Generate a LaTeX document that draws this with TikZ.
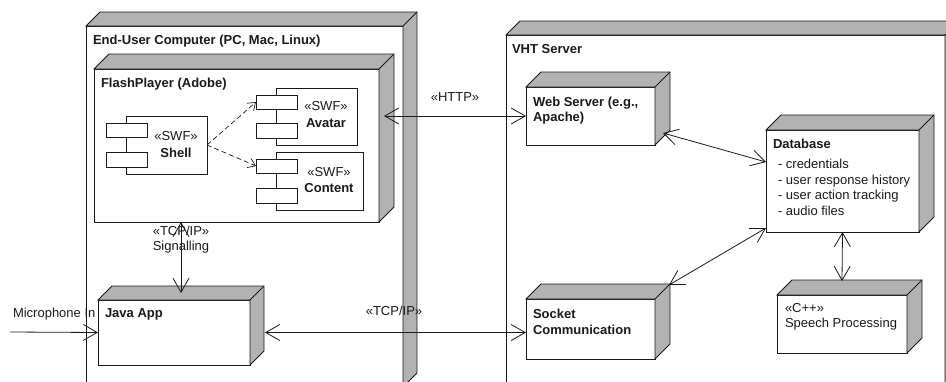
\documentclass[tikz,border=0pt]{standalone}
\usepackage{fontspec}
\setmainfont{Liberation Sans}
\usetikzlibrary{arrows.meta}
\definecolor{sidegray}{HTML}{B2B2B2}
\definecolor{ink}{HTML}{1A1A1A}
\tikzset{
  front/.style={draw=ink, fill=white, line width=0.8pt, inner sep=0pt, outer sep=0pt, anchor=north west},
  sideface/.style={draw=ink, fill=sidegray, line width=0.8pt, line join=miter},
  comp/.style={draw=ink, fill=white, line width=0.7pt, inner sep=0pt, outer sep=0pt, anchor=north west},
  txt/.style={inner sep=0pt, outer sep=0pt, anchor=base west, font=\fontsize{13}{15.5}\selectfont, text=ink},
  btxt/.style={txt, font=\fontsize{13}{15.5}\selectfont\bfseries},
  ctxt/.style={txt, anchor=base},
  bctxt/.style={btxt, anchor=base},
  conn/.style={draw=ink, line width=0.8pt, {Straight Barb[length=14pt,width=16pt]}-{Straight Barb[length=14pt,width=16pt]}},
  conn1/.style={draw=ink, line width=0.8pt, -{Straight Barb[length=14pt,width=16pt]}},
  dashconn/.style={draw=ink, line width=0.7pt, dash pattern=on 5pt off 3pt, -{Straight Barb[length=7pt,width=10pt]}}
}
\newcommand\cubeside[2]{%
  \filldraw[sideface] (#1.north west) -- ++(#2,-#2) -- ([shift={(#2,-#2)}]#1.north east)
    -- ([shift={(#2,-#2)}]#1.south east) -- (#1.south east) -- (#1.north east) -- cycle;
  \draw[sideface] (#1.north east) -- ++(#2,-#2);
}
\begin{document}
\begin{tikzpicture}[x=1pt,y=-1pt]
\useasboundingbox (0,0) rectangle (946,381);
\clip (0,0) rectangle (946,381);

% End-User Computer
\node[front, minimum width=317pt, minimum height=361pt] (euc) at (86,26) {};
\cubeside{euc}{14}
\node[btxt] (euct) at (93,44) {End-User Computer (PC, Mac, Linux)};

% VHT Server
\node[front, minimum width=439pt, minimum height=352pt] (vht) at (506,35) {};
\cubeside{vht}{14}
\node[btxt] (vhtt) at (512,53) {VHT Server};

% FlashPlayer
\node[front, minimum width=285pt, minimum height=153pt] (flash) at (94,69) {};
\cubeside{flash}{15}
\node[btxt] (flasht) at (101,87) {FlashPlayer (Adobe)};

% Shell component
\node[comp, minimum width=81pt, minimum height=58pt] (shell) at (126,116) {};
\node[comp, minimum width=41pt, minimum height=14pt] (shr1) at (106,123) {};
\node[comp, minimum width=41pt, minimum height=15pt] (shr2) at (106,152) {};
\node[ctxt] (shs) at (176,140) {«SWF»};
\node[bctxt] (shn) at (176,157) {Shell};

% Avatar component
\node[comp, minimum width=81pt, minimum height=57pt] (avatar) at (276,88) {};
\node[comp, minimum width=41pt, minimum height=14pt] (avr1) at (256,95) {};
\node[comp, minimum width=41pt, minimum height=15pt] (avr2) at (256,123) {};
\node[ctxt] (avs) at (326,110) {«SWF»};
\node[bctxt] (avn) at (326,127) {Avatar};

% Content component
\node[comp, minimum width=87pt, minimum height=58pt] (content) at (276,152) {};
\node[comp, minimum width=41pt, minimum height=14pt] (cor1) at (256,159) {};
\node[comp, minimum width=41pt, minimum height=15pt] (cor2) at (256,188) {};
\node[ctxt] (cos) at (329,176) {«SWF»};
\node[bctxt] (con) at (329,192) {Content};

% Java App
\node[front, minimum width=152pt, minimum height=65pt] (java) at (98,300) {};
\cubeside{java}{14}
\node[btxt] (javat) at (105,317) {Java App};

% Web Server
\node[front, minimum width=129pt, minimum height=58pt] (web) at (526,87) {};
\cubeside{web}{15}
\node[btxt] (webt1) at (533,106) {Web Server (e.g.,};
\node[btxt] (webt2) at (533,121) {Apache)};

% Socket Communication
\node[front, minimum width=129pt, minimum height=60pt] (socket) at (526,299) {};
\cubeside{socket}{15}
\node[btxt] (sockt1) at (533,318) {Socket};
\node[btxt] (sockt2) at (533,334) {Communication};

% Database
\node[front, minimum width=153pt, minimum height=102pt] (db) at (766,130) {};
\cubeside{db}{15}
\node[btxt] (dbt) at (773,148) {Database};
\node[txt] (db1) at (778,168) {- credentials};
\node[txt] (db2) at (778,184) {- user response history};
\node[txt] (db3) at (778,199) {- user action tracking};
\node[txt] (db4) at (778,215) {- audio files};

% Speech Processing
\node[front, minimum width=130pt, minimum height=58pt] (speech) at (777,295) {};
\cubeside{speech}{15}
\node[txt] (spt1) at (785,312) {«C++»};
\node[txt] (spt2) at (785,327) {Speech Processing};

% labels on connectors
\node[ctxt] (httpl) at (455,101) {«HTTP»};
\node[ctxt] (sig1) at (181,235) {«TCP/IP»};
\node[ctxt] (sig2) at (181,250) {Signalling};
\node[ctxt] (tcpl) at (394,315) {«TCP/IP»};
\node[txt] (micl) at (13,317) {Microphone In};

% connectors
\draw[dashconn] (shell.east) -- (avr1.west);
\draw[dashconn] (shell.east) -- (cor1.west);
\draw[conn] ([shift={(5,47)}]flash.north east) -- (web.west);
\draw[conn] ([shift={(87,0)}]flash.south west) -- ([shift={(83,-7)}]java.north west);
\draw[conn] ([shift={(15,0)}]java.east) -- (java.east -| socket.west);
\draw[conn] ([shift={(8,-12)}]web.south east) -- ([shift={(0,32)}]db.north west);
\draw[conn] ([shift={(14,-14)}]socket.north east) -- ([shift={(0,-4)}]db.south west);
\draw[conn] (db.south) -- ([shift={(0,-14)}]speech.north);
\coordinate (mic) at (10,332);
\draw[conn1] (mic) -- (java.west);
\end{tikzpicture}
\end{document}
